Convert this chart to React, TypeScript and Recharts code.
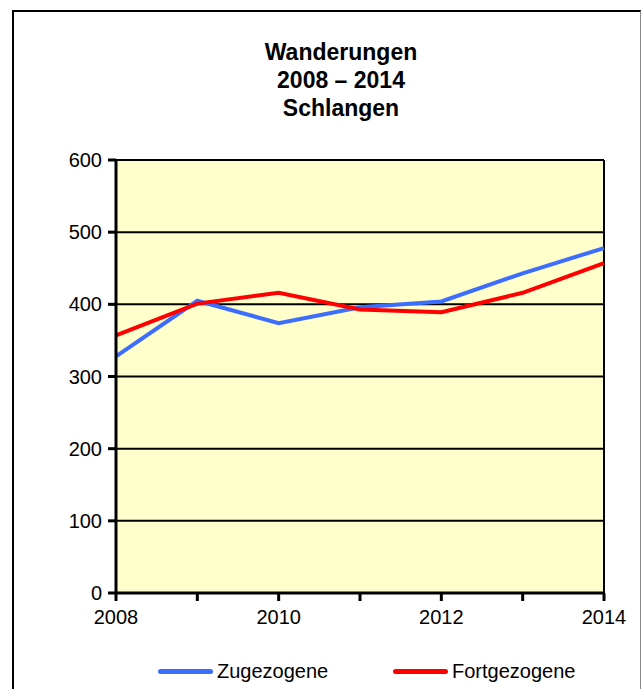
import {
  CartesianGrid,
  Line,
  LineChart,
  ReferenceLine,
  XAxis,
  YAxis,
} from "recharts";

// Migration into / out of Schlangen, 2008–2014.

const years = [2008, 2009, 2010, 2011, 2012, 2013, 2014];
const zugezogene = [328, 405, 374, 396, 404, 443, 478];
const fortgezogene = [357, 401, 416, 393, 389, 416, 457];
const yTicks = [0, 100, 200, 300, 400, 500, 600];
const titleLines = ["Wanderungen", "2008 – 2014", "Schlangen"];

const BLUE = "#3d6dff";
const RED = "#ff0000";
const FONT = "'Liberation Sans', Arial, sans-serif";

const data = years.map((year, i) => ({
  year,
  zugezogene: zugezogene[i],
  fortgezogene: fortgezogene[i],
}));

const legendItems = [
  { label: "Zugezogene", color: BLUE, left: 158 },
  { label: "Fortgezogene", color: RED, left: 393 },
];

// Legend sits below the plot as plain HTML so it doesn't eat chart height.
const ChartLegend = () => (
  <div style={{ position: "absolute", left: 0, top: 656, width: 642, height: 30 }}>
    {legendItems.map(item => (
      <div
        key={item.label}
        style={{
          position: "absolute",
          left: item.left,
          top: 0,
          display: "flex",
          alignItems: "center",
          height: 30,
        }}
      >
        <span
          style={{
            display: "inline-block",
            width: 55,
            height: 5,
            borderRadius: 3,
            background: item.color,
            marginRight: 4,
          }}
        />
        <span style={{ fontFamily: FONT, fontSize: 20, color: "#000" }}>
          {item.label}
        </span>
      </div>
    ))}
  </div>
);

export default function App() {
  return (
    <div
      style={{
        position: "absolute",
        left: 0,
        top: 0,
        width: 642,
        height: 689,
        background: "#fff",
        overflow: "hidden",
      }}
    >
      <div
        style={{
          position: "absolute",
          left: 12,
          top: 10,
          width: 626,
          height: 700,
          borderLeft: "2px solid #000",
          borderTop: "2px solid #000",
          borderRight: "1px solid #888",
        }}
      />
      <div
        style={{
          position: "absolute",
          left: 241,
          top: 38,
          width: 200,
          textAlign: "center",
          fontFamily: FONT,
          fontWeight: "bold",
          fontSize: 23,
          lineHeight: "28px",
          color: "#000",
        }}
      >
        {titleLines.map(t => (
          <div key={t}>{t}</div>
        ))}
      </div>
      <div style={{ position: "absolute", left: 0, top: 0 }}>
        <LineChart
          width={642}
          height={689}
          data={data}
          margin={{ top: 160, right: 38, left: 0, bottom: 0 }}
        >
          <CartesianGrid
            vertical={false}
            stroke="#000"
            strokeWidth={2}
            fill="#ffffcc"
            fillOpacity={1}
          />
          <XAxis
            dataKey="year"
            type="number"
            domain={[2008, 2014]}
            ticks={years}
            tickFormatter={(v: number) => (v % 2 === 0 ? String(v) : "")}
            interval={0}
            stroke="#000"
            strokeWidth={3}
            tickSize={8}
            tickMargin={9}
            tick={{ fill: "#000", fontSize: 20, fontFamily: FONT }}
            height={96}
          />
          <YAxis
            domain={[0, 600]}
            ticks={yTicks}
            interval={0}
            width={116}
            stroke="#000"
            strokeWidth={3}
            tickSize={8}
            tickMargin={6}
            tick={{ fill: "#000", fontSize: 20, fontFamily: FONT }}
          />
          <ReferenceLine x={2014} stroke="#000" strokeWidth={2} />
          <Line
            type="linear"
            dataKey="zugezogene"
            stroke={BLUE}
            strokeWidth={4}
            dot={false}
            isAnimationActive={false}
          />
          <Line
            type="linear"
            dataKey="fortgezogene"
            stroke={RED}
            strokeWidth={4}
            dot={false}
            isAnimationActive={false}
          />
        </LineChart>
      </div>
      <ChartLegend />
    </div>
  );
}
